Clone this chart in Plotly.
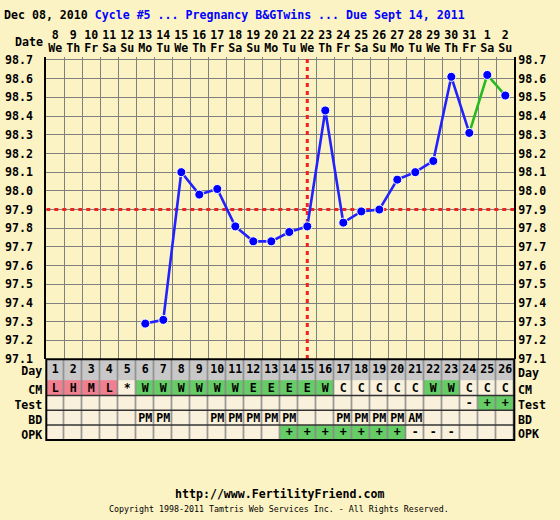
import plotly.graph_objects as go

# ---------------- data ----------------
days = list(range(1, 27))
dates = ["8", "9", "10", "11", "12", "13", "14", "15", "16", "17", "18", "19", "20",
         "21", "22", "23", "24", "25", "26", "27", "28", "29", "30", "31", "1", "2"]
weekdays = ["We", "Th", "Fr", "Sa", "Su", "Mo", "Tu"] * 3 + ["We", "Th", "Fr", "Sa", "Su"]

temp_days = list(range(6, 27))
temps = [97.29, 97.31, 98.10, 97.98, 98.01, 97.81, 97.73, 97.73, 97.78, 97.81, 98.43,
         97.83, 97.89, 97.90, 98.06, 98.10, 98.16, 98.61, 98.31, 98.62, 98.51]
green_from_day = 24          # line segments drawn green from this day on

coverline = 97.9
ovulation_day = 15

temp_ticks = [round(97.1 + 0.1 * i, 1) for i in range(17)]

cm = ["L", "H", "M", "L", "*", "W", "W", "W", "W", "W", "W", "E", "E", "E", "E", "W",
      "C", "C", "C", "C", "C", "W", "W", "C", "C", "C"]
test = [""] * 23 + ["-", "+", "+"]
bd = ["", "", "", "", "", "PM", "PM", "", "", "PM", "PM", "PM", "PM", "PM", "", "",
      "PM", "PM", "PM", "PM", "AM", "", "", "", "", ""]
opk = [""] * 13 + ["+"] * 7 + ["-"] * 3 + [""] * 3

row_labels = ["OPK", "BD", "Test", "CM", "Day"]      # bottom -> top
row_edges = [0, 15, 30, 45, 61, 82]

# ---------------- styles ----------------
BG = "#FCF3C4"
CREAM = "#FAF1DC"
GRAY = "#C8C8C8"
PINK = "#F0808F"
GREEN = "#66CC66"
GRID = "#808080"
RED = "#EE2222"
FONT = "DejaVu Sans Mono"
FS = 11.6

W, H = 560, 520
px_l, px_r = 46.3, 514.3
main_bot, main_top = 362.8, 54.3
tab_bot = 445.3
xdom = [px_l / W, px_r / W]
ydom_main = [1 - main_bot / H, 1 - main_top / H]
ydom_tab = [1 - tab_bot / H, 1 - main_bot / H]
yrange_main = [97.1, 97.1 + (main_bot - main_top) / 191.0]
xrange_all = [days[0] - 0.5, days[-1] + 0.5]
label_drop = 2.0   # row labels sit slightly below row centre


def cm_code(v):
    if v in ("L", "H", "M"):
        return 2
    if v in ("W", "E"):
        return 3
    return 0


z = [
    [3 if v == "+" else 0 for v in opk],
    [0 for _ in bd],
    [3 if v == "+" else 0 for v in test],
    [cm_code(v) for v in cm],
    [1 for _ in days],
]
text = [opk, bd, test, cm, [str(d) for d in days]]

colorscale = [[0, CREAM], [0.1667, CREAM], [0.1667, GRAY], [0.5, GRAY],
              [0.5, PINK], [0.8333, PINK], [0.8333, GREEN], [1, GREEN]]

fig = go.Figure()

# table
fig.add_trace(go.Heatmap(
    x=days, y=row_edges, z=z, text=text, texttemplate="%{text}",
    textfont=dict(family=FONT, size=FS, color="black", weight="bold"),
    colorscale=colorscale, zmin=0, zmax=3, showscale=False,
    xgap=1.5, ygap=0, hoverinfo="skip", xaxis="x2", yaxis="y2"))

# red coverline and ovulation line
dash_line = dict(color=RED, width=3, dash="4px,4px")
fig.add_trace(go.Scatter(x=xrange_all, y=[coverline, coverline], mode="lines",
                         line=dash_line, hoverinfo="skip"))
fig.add_trace(go.Scatter(x=[ovulation_day, ovulation_day], y=yrange_main, mode="lines",
                         line=dash_line, hoverinfo="skip", cliponaxis=False))

# temperature lines
blue_days = [d for d in temp_days if d <= green_from_day]
blue_t = [t for d, t in zip(temp_days, temps) if d <= green_from_day]
green_days = [d for d in temp_days if d >= green_from_day]
green_t = [t for d, t in zip(temp_days, temps) if d >= green_from_day]

fig.add_trace(go.Scatter(x=blue_days, y=blue_t, mode="lines",
                         line=dict(color="#2222FF", width=2.6), hoverinfo="skip"))
fig.add_trace(go.Scatter(x=green_days, y=green_t, mode="lines",
                         line=dict(color="#22BB22", width=2.6), hoverinfo="skip"))
fig.add_trace(go.Scatter(x=temp_days, y=temps, mode="markers",
                         marker=dict(color="#0000FF", size=9,
                                     line=dict(color="white", width=1)),
                         hoverinfo="skip"))
# invisible trace carrying the mirrored axes (date numbers on top, temps on right)
fig.add_trace(go.Scatter(x=temp_days, y=temps, mode="markers", marker=dict(opacity=0),
                         xaxis="x3", yaxis="y3", hoverinfo="skip"))

row_centres = [(row_edges[i] + row_edges[i + 1]) / 2 for i in range(5)]

fig.update_layout(
    width=W, height=H, margin=dict(l=0, r=0, t=0, b=0),
    paper_bgcolor=BG, plot_bgcolor=BG, showlegend=False,
    font=dict(family=FONT, size=FS, color="black", weight="bold"),
    xaxis=dict(domain=xdom, range=xrange_all, anchor="y", side="top",
               tickmode="array", tickvals=days, ticktext=weekdays,
               ticks="", ticklabelstandoff=2, showgrid=False, zeroline=False,
               showline=False,
               minor=dict(tickmode="array", tickvals=[d + 0.5 for d in range(0, 27)],
                          showgrid=True, gridcolor=GRID, gridwidth=1.3, ticks="")),
    xaxis3=dict(overlaying="x", range=xrange_all, anchor="y", side="top",
                tickmode="array", tickvals=days, ticktext=dates, ticks="",
                ticklabelstandoff=15, showgrid=False, zeroline=False, showline=False),
    yaxis=dict(domain=ydom_main, range=yrange_main, anchor="x",
               tickmode="array", tickvals=temp_ticks,
               ticktext=[f"{v:.1f}" for v in temp_ticks],
               ticks="", ticklabelstandoff=9, showgrid=True, gridcolor=GRID,
               gridwidth=1.3, zeroline=False, showline=True, linecolor="black",
               linewidth=2, mirror=True),
    yaxis3=dict(overlaying="y", side="right", range=yrange_main, anchor="x3",
                tickmode="array", tickvals=temp_ticks,
                ticktext=[f"{v:.1f}" for v in temp_ticks],
                ticks="", ticklabelstandoff=3, showgrid=False, zeroline=False,
                showline=False),
    xaxis2=dict(domain=xdom, range=xrange_all, anchor="y2", matches="x",
                showticklabels=False, ticks="", showgrid=False, zeroline=False),
    yaxis2=dict(domain=ydom_tab, range=[row_edges[0], row_edges[-1]], anchor="x2",
                tickmode="array",
                tickvals=[c - label_drop for c in row_centres],
                ticktext=row_labels, ticks="", ticklabelstandoff=3,
                showgrid=False, zeroline=False),
)

shapes = [
    # grey background behind table cells -> column separators
    dict(type="rect", xref="x2 domain", yref="y2 domain", x0=0, x1=1, y0=0, y1=1,
         fillcolor="#8A8A8A", line=dict(width=0), layer="below"),
]
for e in row_edges[1:4]:
    shapes.append(dict(type="line", xref="x2 domain", yref="y2", x0=0, x1=1, y0=e, y1=e,
                       line=dict(color="#333333", width=1.5)))
shapes.append(dict(type="rect", xref="x2 domain", yref="y2 domain", x0=0, x1=1, y0=0,
                   y1=1, line=dict(color="black", width=2)))
fig.update_layout(shapes=shapes)

annotations = [
    dict(xref="paper", yref="paper", x=3 / W, y=1 - 11 / H, xanchor="left",
         yanchor="middle", showarrow=False, borderpad=0,
         text="Dec 08, 2010 <span style='color:#0000FF'>Cycle #5 ... Pregnancy "
              "B&amp;GTwins ... Due Sept 14, 2011</span>"),
    dict(xref="paper", yref="paper", x=43.5 / W, y=1 - 39 / H, xanchor="right",
         yanchor="middle", showarrow=False, borderpad=0, text="Date"),
    dict(xref="paper", yref="paper", x=0.499, y=1 - 501 / H, xanchor="center",
         yanchor="middle", showarrow=False, borderpad=0,
         text="http://www.FertilityFriend.com"),
    dict(xref="paper", yref="paper", x=0.498, y=1 - 516 / H, xanchor="center",
         yanchor="middle", showarrow=False, borderpad=0,
         font=dict(size=8.3, weight="normal"),
         text="Copyright 1998-2011 Tamtris Web Services Inc. - All Rights Reserved."),
]
for i in range(5):
    annotations.append(dict(xref="x2 domain", yref="y2", x=1, xshift=3, xanchor="left",
                            y=row_centres[i] - label_drop, yanchor="middle",
                            yshift=-2 if row_labels[i] == "Day" else 0,
                            showarrow=False, borderpad=0, text=row_labels[i]))
fig.update_layout(annotations=annotations)

fig.write_html("out.html",
               config={"displayModeBar": False},
               post_script="document.body.style.margin='0';"
                           "document.body.style.overflow='hidden';")
